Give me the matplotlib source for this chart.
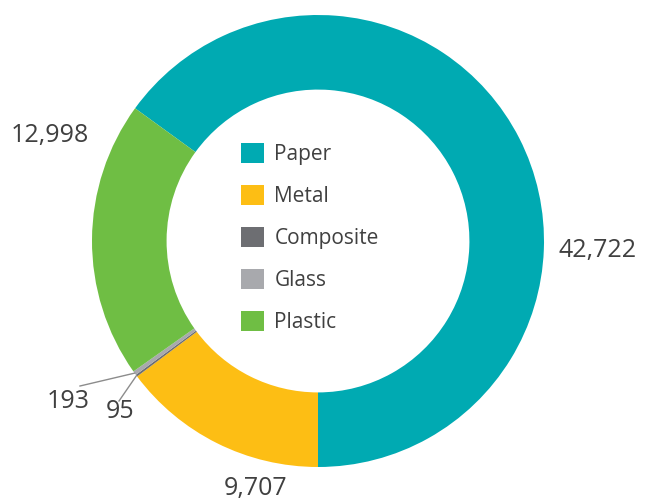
import numpy as np
import matplotlib.pyplot as plt

plt.rcParams['font.family'] = ['Open Sans', 'DejaVu Sans']

# tonnes by material
materials = ["Paper", "Metal", "Composite", "Glass", "Plastic"]
tonnes = [42722, 9707, 95, 193, 12998]
colors = ["#00aab2", "#fdbe14", "#6d6e72", "#a8a9ad", "#6fbe44"]

# label placement (pixel coords, y up) and optional leader lines
label_pos = {
    "Paper": (598, 250),
    "Metal": (256, 12),
    "Composite": (120, 89),
    "Glass": (68, 99),
    "Plastic": (50, 366),
}
leader_end = {
    "Composite": (119, 100),
    "Glass": (80, 115),
}

W, H = 654, 501
fig = plt.figure(figsize=(W / 100, H / 100), dpi=100)
ax = fig.add_axes([0, 0, 1, 1])

cx, cy, R = 318, 260, 226
share_first = tonnes[0] / sum(tonnes)
wedges, _ = ax.pie(tonnes, colors=colors, center=(cx, cy), radius=R,
                   startangle=-90 + 360 * share_first, counterclock=False,
                   wedgeprops=dict(width=R * 0.33, linewidth=0))
ax.set_xlim(0, W)
ax.set_ylim(0, H)
ax.set_aspect('equal')
ax.axis('off')

txt = "#404040"
for w, name, val in zip(wedges, materials, tonnes):
    x, y = label_pos[name]
    ax.text(x, y, f"{val:,}", fontsize=18, color=txt, ha='center', va='center')
    if name in leader_end:
        mid = np.deg2rad((w.theta1 + w.theta2) / 2)
        x0, y0 = cx + R * np.cos(mid), cy + R * np.sin(mid)
        x1, y1 = leader_end[name]
        ax.plot([x0, x1], [y0, y1], color="#8c8c8c", lw=1)

leg = ax.legend(wedges, materials, loc='upper left', bbox_to_anchor=(241 / W, 1 - 143 / H),
                frameon=False, fontsize=15, handlelength=1.1, handleheight=1.1,
                handletextpad=0.5, labelspacing=0.95, borderpad=0, borderaxespad=0)
for t in leg.get_texts():
    t.set_color(txt)

fig.savefig("out.png", dpi=100)
